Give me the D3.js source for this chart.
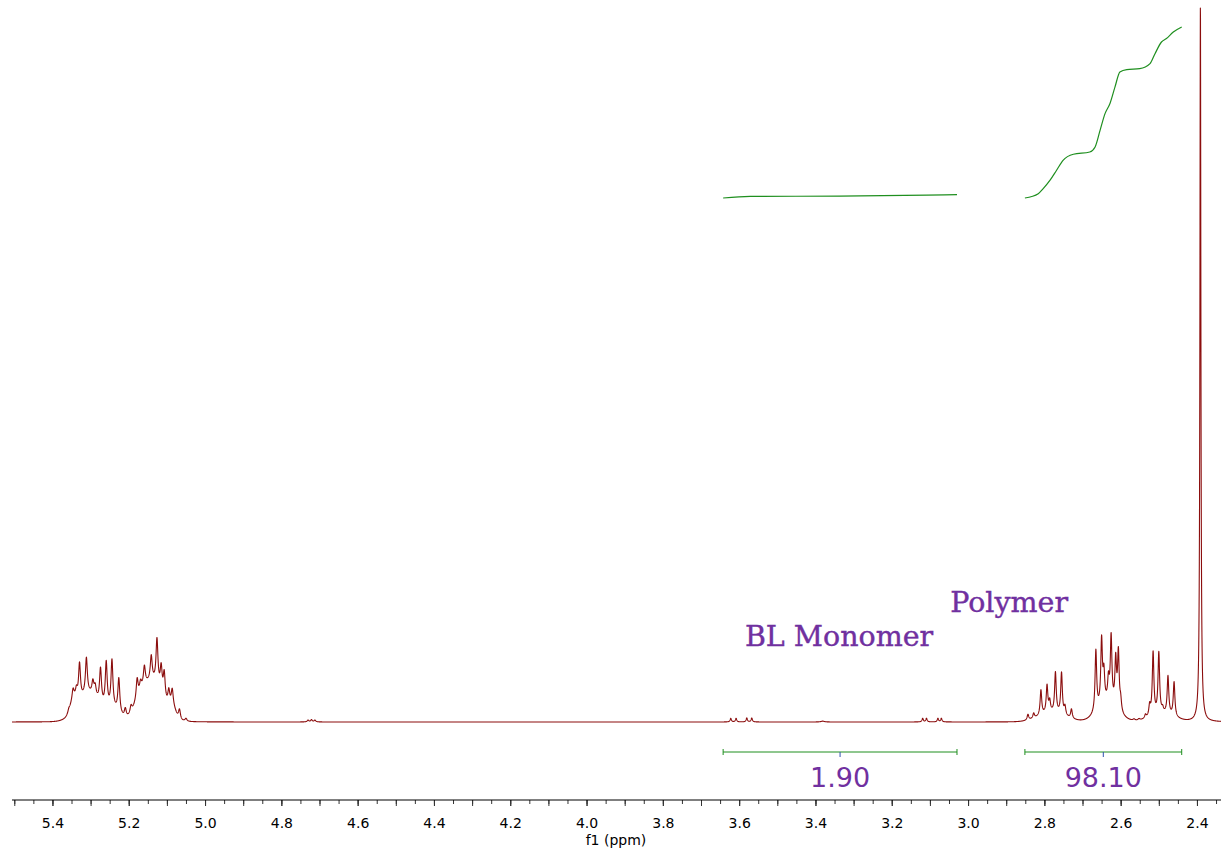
<!DOCTYPE html>
<html>
<head>
<meta charset="utf-8">
<script src="https://cdn.jsdelivr.net/npm/d3@7"></script>
<style>
  html, body { margin: 0; padding: 0; background: #fff; }
  svg { display: block; }
</style>
</head>
<body>
<svg id="chart" width="1221" height="848"></svg>
<script>
// ---- data ----
// narrow lines: [ppm, height (% of tallest), fwhm ppm]
var alkenePeaks = [
  [5.357, 0.4, 0.006], [5.346, 1.4, 0.006], [5.337, 1.2, 0.006], [5.329, 5.0, 0.006],
  [5.311, 5.0, 0.006], [5.294, 1.8, 0.006], [5.288, 1.4, 0.006], [5.274, 4.8, 0.006],
  [5.259, 6.2, 0.006], [5.244, 6.6, 0.006], [5.226, 4.8, 0.006], [5.209, 1.2, 0.006],
  [5.194, 1.0, 0.006], [5.178, 2.8, 0.006], [5.169, 1.2, 0.006], [5.159, 2.6, 0.006],
  [5.141, 3.4, 0.006], [5.126, 6.3, 0.006], [5.115, 3.4, 0.006], [5.107, 3.6, 0.006],
  [5.095, 2.0, 0.006], [5.086, 2.2, 0.006], [5.067, 1.4, 0.006], [5.050, 0.4, 0.006]
];
var smallPeaks = [
  [4.730, 0.25, 0.005], [4.721, 0.3, 0.005], [4.712, 0.25, 0.005],
  [3.381, 0.12, 0.01]
];
var monomerPeaks = [
  [3.622, 0.5, 0.004], [3.608, 0.5, 0.004], [3.580, 0.55, 0.004], [3.567, 0.55, 0.004],
  [3.119, 0.5, 0.004], [3.109, 0.5, 0.004], [3.079, 0.5, 0.004], [3.070, 0.5, 0.004]
];
var polymerPeaks = [
  [2.843, 0.8, 0.005], [2.828, 0.7, 0.005], [2.809, 3.5, 0.005], [2.793, 3.8, 0.005],
  [2.786, 1.5, 0.005], [2.771, 5.6, 0.005], [2.755, 5.8, 0.005], [2.746, 1.2, 0.005],
  [2.729, 1.3, 0.005],
  [2.665, 8.5, 0.005], [2.650, 9.0, 0.005], [2.644, 4.0, 0.005], [2.632, 3.0, 0.005],
  [2.625, 9.2, 0.005], [2.613, 6.5, 0.005], [2.606, 8.0, 0.005], [2.600, 1.5, 0.005],
  [2.565, 0.2, 0.006], [2.552, 0.2, 0.006],
  [2.535, 0.5, 0.005], [2.524, 1.5, 0.005], [2.515, 8.8, 0.005], [2.500, 8.5, 0.005],
  [2.490, 0.6, 0.005], [2.476, 5.3, 0.005], [2.460, 4.8, 0.005]
];
var solventPeak = [[2.391, 100, 0.003]];
// broad underlying humps: [ppm, height, fwhm]
var humps = [
  [5.305, 3.8, 0.07], [5.345, 1.5, 0.02], [5.24, 1.3, 0.04], [5.17, 2.0, 0.04],
  [5.135, 5.2, 0.06], [5.085, 1.3, 0.02],
  [2.78, 1.2, 0.08], [2.635, 2.5, 0.06], [2.49, 1.0, 0.07]
];

// integral curves: [ppm, cumulative value]
var integralMonomer = [[3.642, 0], [3.571, 0.9], [3.336, 1.1], [3.108, 1.6], [3.029, 1.9]];
var integralPolymer = [
  [2.851, 0], [2.816, 2.5], [2.803, 5.4], [2.785, 10.2], [2.768, 15.9], [2.751, 21.6],
  [2.724, 25.1], [2.681, 26.4], [2.667, 29.3], [2.654, 38.8], [2.641, 48.4], [2.628, 54.2],
  [2.615, 63.6], [2.602, 72.3], [2.584, 73.7], [2.550, 74.2], [2.523, 77.1], [2.510, 82.8],
  [2.493, 89.5], [2.480, 91.5], [2.462, 95.2], [2.440, 98.1]
];
var integralRanges = [[3.642, 3.029], [2.851, 2.440]];
var integralLabels = ["1.90", "98.10"];

var annotations = [
  { text: "Polymer", ppm: 3.047, level: 15.3 },
  { text: "BL Monomer", ppm: 3.585, level: 10.6 }
];
var tickLabels = [5.4, 5.2, 5.0, 4.8, 4.6, 4.4, 4.2, 4.0, 3.8, 3.6, 3.4, 3.2, 3.0, 2.8, 2.6, 2.4];

// ---- drawing ----
var svg = d3.select("#chart");
var purple = "#7030a0", specColor = "#8b0d0d", intColor = "#1f8f1f";

var x = d3.scaleLinear().domain([5.506, 2.337]).range([12, 1221]);
var y = d3.scaleLinear().domain([0, 100]).range([722, 5]);
var yInt = d3.scaleLinear().domain([0, 100]).range([198, 23.7]);

var lines = alkenePeaks.concat(smallPeaks, monomerPeaks, polymerPeaks, solventPeak);

function intensity(p) {
  var s = 0;
  lines.forEach(function (l) {
    var d = (p - l[0]) / (l[2] / 2);
    s += l[1] / (1 + d * d);
  });
  humps.forEach(function (h) {
    var sg = h[2] / 2.3548, d = p - h[0];
    s += h[1] * Math.exp(-d * d / (2 * sg * sg));
  });
  return s;
}

var pts = [];
for (var p = 5.506; p >= 2.337; p -= 0.0003) pts.push([p, intensity(p)]);

svg.append("path")
  .datum(pts)
  .attr("fill", "none")
  .attr("stroke", specColor)
  .attr("stroke-width", 1.1)
  .attr("stroke-linejoin", "round")
  .attr("d", d3.line().x(function (d) { return x(d[0]); }).y(function (d) { return y(d[1]); }));

// integral curves
var intLine = d3.line()
  .x(function (d) { return x(d[0]); })
  .y(function (d) { return yInt(d[1]); })
  .curve(d3.curveMonotoneX);

[integralMonomer, integralPolymer].forEach(function (c) {
  svg.append("path")
    .datum(c)
    .attr("fill", "none")
    .attr("stroke", intColor)
    .attr("stroke-width", 1.2)
    .attr("d", intLine);
});

// integral brackets + values
var barY = 752;
integralRanges.forEach(function (r, i) {
  var g = svg.append("g");
  g.append("line").attr("x1", x(r[0])).attr("x2", x(r[1])).attr("y1", barY).attr("y2", barY)
    .attr("stroke", intColor).attr("stroke-width", 1);
  [r[0], r[1]].forEach(function (e) {
    g.append("line").attr("x1", x(e)).attr("x2", x(e)).attr("y1", barY - 3).attr("y2", barY + 3)
      .attr("stroke", intColor).attr("stroke-width", 1);
  });
  var mid = (r[0] + r[1]) / 2;
  g.append("line").attr("x1", x(mid)).attr("x2", x(mid)).attr("y1", barY).attr("y2", barY + 5)
    .attr("stroke", "#3050b0").attr("stroke-width", 1);
  g.append("text")
    .attr("x", x(mid)).attr("y", 787)
    .attr("text-anchor", "middle")
    .attr("font-family", "DejaVu Sans, Verdana, sans-serif")
    .attr("font-size", 27)
    .attr("fill", purple)
    .text(integralLabels[i]);
});

// annotations (level = baseline height on the intensity scale)
annotations.forEach(function (a) {
  svg.append("text")
    .attr("x", x(a.ppm)).attr("y", y(a.level))
    .attr("font-family", "DejaVu Serif, serif")
    .attr("font-size", 28.5)
    .attr("fill", purple)
    .attr("stroke", purple).attr("stroke-width", 0.4)
    .text(a.text);
});

// axis
var axisG = svg.append("g").attr("transform", "translate(0,800)");
var minorTicks = d3.range(0, 64).map(function (i) { return +(5.50 - i * 0.05).toFixed(2); });
var midTicks = minorTicks.filter(function (v, i) { return i % 2 === 0; });

axisG.append("g")
  .call(d3.axisBottom(x).tickValues(minorTicks).tickSize(4).tickFormat(""))
  .call(function (g) { g.select(".domain").remove(); });
axisG.append("g")
  .call(d3.axisBottom(x).tickValues(midTicks).tickSize(6).tickFormat(""))
  .call(function (g) { g.select(".domain").remove(); });
axisG.append("g")
  .call(d3.axisBottom(x).tickValues(tickLabels).tickSize(6).tickPadding(12).tickFormat(d3.format(".1f")))
  .call(function (g) {
    g.select(".domain").remove();
    g.selectAll("text").attr("font-family", "DejaVu Sans, Verdana, sans-serif").attr("font-size", 14).attr("fill", "#000");
  });
axisG.selectAll(".tick line").attr("stroke", "#333");
axisG.append("line").attr("x1", 12).attr("x2", 1221).attr("y1", 0).attr("y2", 0)
  .attr("stroke", "#000").attr("stroke-width", 1);

svg.append("text")
  .attr("x", 616).attr("y", 845)
  .attr("text-anchor", "middle")
  .attr("font-family", "DejaVu Sans, Verdana, sans-serif")
  .attr("font-size", 14)
  .text("f1 (ppm)");
</script>
</body>
</html>
